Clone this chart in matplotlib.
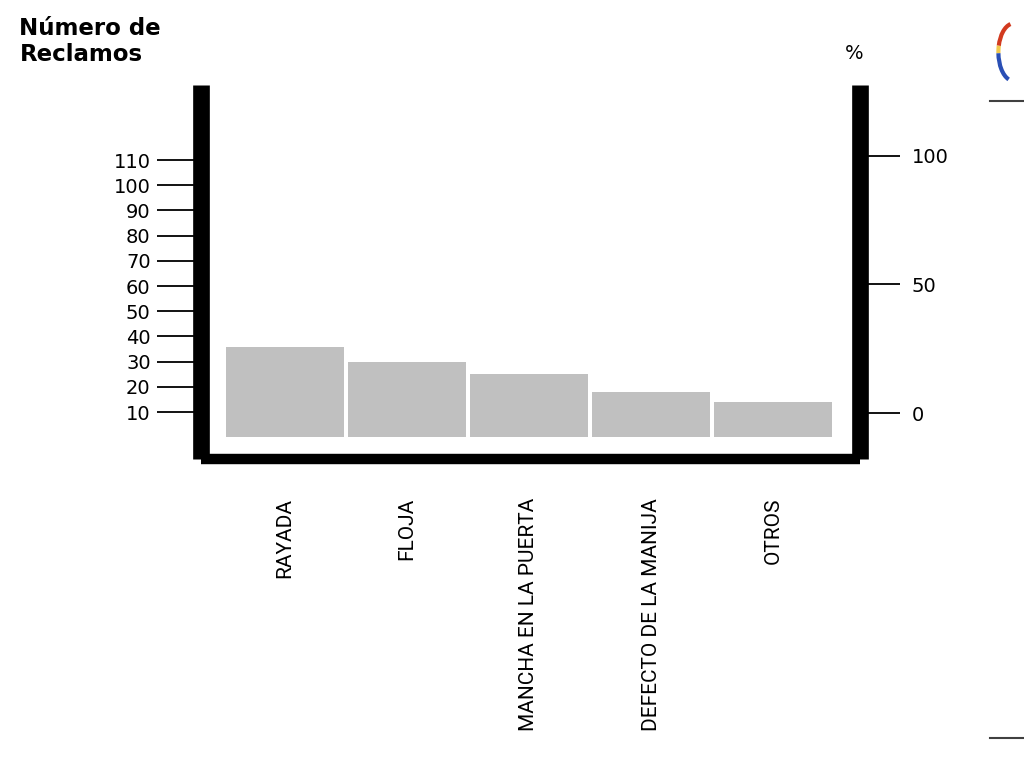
# Diagrama de Pareto - reclamos
import matplotlib.pyplot as plt
from matplotlib.lines import Line2D
from matplotlib.patches import Arc
import numpy as np

# Datos
categorias = ["RAYADA", "FLOJA", "MANCHA EN LA PUERTA", "DEFECTO DE LA MANIJA", "OTROS"]
reclamos = [36, 30, 25, 18, 14]
ticks_izq = [10, 20, 30, 40, 50, 60, 70, 80, 90, 100, 110]
ticks_der = [0, 50, 100]

fig = plt.figure(figsize=(10.24, 7.68), dpi=100)
ax = fig.add_axes([0.196, 0.4023, 0.644, 0.487])

x = np.arange(len(categorias))
ax.bar(x, reclamos, width=0.965, color="#c0c0c0", edgecolor="none")

ax.set_xlim(-0.689, 4.713)
ax.set_ylim(-8.65, 139.8)
ax.set_yticks(ticks_izq)
ax.set_yticklabels([str(t) for t in ticks_izq], fontsize=14, family="DejaVu Sans")
ax.tick_params(axis="y", direction="out", length=32, width=1.3, pad=4, colors="black")

ax.set_xticks(x)
ax.set_xticklabels(categorias, rotation=90, va="top", ha="center", fontsize=15,
                   family=["Roboto", "DejaVu Sans"])
ax.tick_params(axis="x", length=0, pad=28)

ax.spines["top"].set_visible(False)
ax.spines["right"].set_visible(False)
ax.spines["left"].set_linewidth(12)
ax.spines["left"].set_capstyle("butt")
ax.spines["bottom"].set_linewidth(7.5)
ax.spines["bottom"].set_capstyle("butt")

# eje de porcentaje
ax2 = ax.twinx()
ax2.set_ylim(-17.9, 127.6)
ax2.set_yticks(ticks_der)
ax2.set_yticklabels([str(t) for t in ticks_der], fontsize=14, family="DejaVu Sans")
ax2.tick_params(axis="y", direction="out", length=29, width=1.3, pad=8)
for s in ["top", "left", "bottom"]:
    ax2.spines[s].set_visible(False)
ax2.spines["right"].set_linewidth(12)
ax2.spines["right"].set_capstyle("butt")

# Títulos
fig.text(0.019, 0.978, "Número de\nReclamos", fontsize=16.5, fontweight="heavy",
         va="top", ha="left", linespacing=1.2)
fig.text(0.825, 0.93, "%", fontsize=14, va="center", ha="left")

# decoraciones de la diapositiva
fig.add_artist(Line2D([0.967, 1.0], [0.868, 0.868], color="#404040", lw=1.5))
fig.add_artist(Line2D([0.967, 1.0], [0.039, 0.039], color="#404040", lw=1.5))
logo = [("#d23a1f", 95, 150), ("#f2c94c", 150, 185), ("#2a4fb5", 185, 262)]
for col, t1, t2 in logo:
    fig.add_artist(Arc((0.99, 0.932), 0.03, 0.075, theta1=t1, theta2=t2,
                       color=col, lw=3, transform=fig.transFigure))

fig.savefig("out.png", dpi=100)
